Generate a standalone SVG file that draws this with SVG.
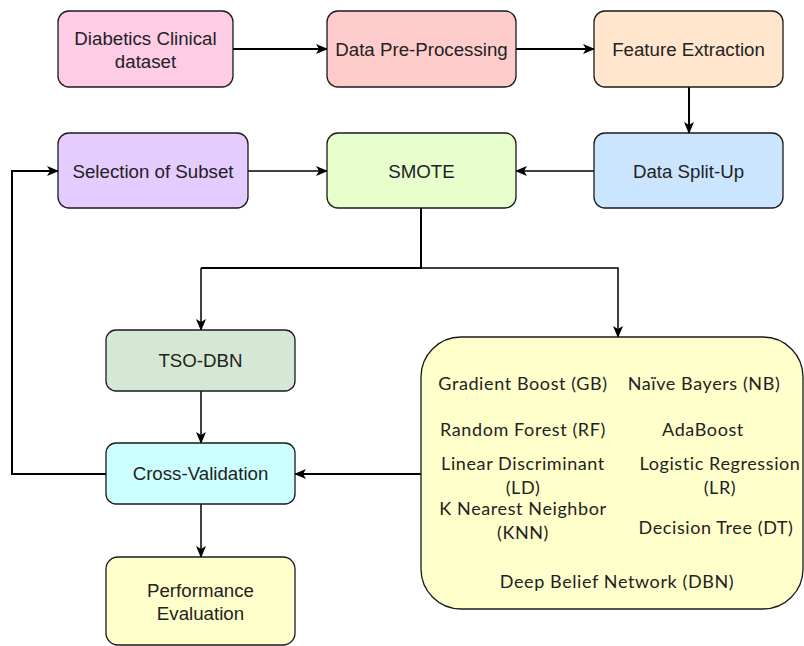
<svg xmlns="http://www.w3.org/2000/svg" width="804" height="646" viewBox="0 0 804 646">
<defs>
<marker id="ah" markerWidth="12" markerHeight="10" refX="11" refY="5" orient="auto" markerUnits="userSpaceOnUse">
<path d="M0,0 L12,5 L0,10 L3,5 z" fill="#000"/>
</marker>
<style>
.box{stroke:#1a1a1a;stroke-width:1.3}
.t{font-family:"Liberation Sans",Arial,sans-serif;font-size:18.7px;fill:#222;text-anchor:middle;dominant-baseline:central}
.c{font-family:Lato,"Open Sans",sans-serif;font-size:18px;letter-spacing:0.6px;fill:#222;text-anchor:middle;dominant-baseline:central}
.ln{fill:none;stroke:#000;stroke-width:1.5;marker-end:url(#ah)}
.lt{fill:none;stroke:#000;stroke-width:2}
</style>
</defs>
<rect width="804" height="646" fill="#fff"/>
<g id="connectors">
<path class="ln" style="stroke-width:2" d="M233,49 H327"/>
<path class="ln" style="stroke-width:2" d="M516,49 H594"/>
<path class="ln" style="stroke-width:2" d="M689,87 V133"/>
<path class="ln" d="M594,171 H516"/>
<path class="ln" d="M248,171 H327"/>
<path class="lt" d="M421,208 V268 H201"/>
<path class="ln" d="M201,268 V330"/>
<path class="ln" d="M421,268 H618 V337"/>
<path class="ln" d="M201,391 V443"/>
<path class="ln" style="stroke-width:2" d="M421,474 H295"/>
<path class="ln" style="stroke-width:2" d="M106,474 H12 V171 H58"/>
<path class="ln" d="M201,504 V557"/>
</g>
<g id="diabetics">
<rect class="box" x="58" y="11" width="175" height="76" rx="11" fill="#FFCCE6"/>
<text class="t" x="145.5" y="38">Diabetics Clinical</text>
<text class="t" x="145.5" y="61">dataset</text>
</g>
<g id="preprocessing">
<rect class="box" x="327" y="11" width="189" height="76" rx="11" fill="#FFCCCC"/>
<text class="t" x="421.5" y="49">Data Pre-Processing</text>
</g>
<g id="feature">
<rect class="box" x="594" y="11" width="189" height="76" rx="11" fill="#FFE6CC"/>
<text class="t" x="688.5" y="49">Feature Extraction</text>
</g>
<g id="split">
<rect class="box" x="594" y="133" width="189" height="75" rx="11" fill="#CCE5FF"/>
<text class="t" x="688.5" y="171">Data Split-Up</text>
</g>
<g id="smote">
<rect class="box" x="327" y="133" width="189" height="75" rx="11" fill="#E6FFCC"/>
<text class="t" x="421.5" y="171">SMOTE</text>
</g>
<g id="selection">
<rect class="box" x="58" y="133" width="190" height="75" rx="11" fill="#E5CCFF"/>
<text class="t" x="153" y="171">Selection of Subset</text>
</g>
<g id="tsodbn">
<rect class="box" x="106" y="330" width="189" height="61" rx="10" fill="#D5E8D4"/>
<text class="t" x="200.5" y="360">TSO-DBN</text>
</g>
<g id="crossval">
<rect class="box" x="106" y="443" width="189" height="61" rx="10" fill="#CCFFFF"/>
<text class="t" x="200.5" y="473">Cross-Validation</text>
</g>
<g id="performance">
<rect class="box" x="106" y="557" width="189" height="88" rx="12" fill="#FFFFCC"/>
<text class="t" x="200.5" y="590">Performance</text>
<text class="t" x="200.5" y="613">Evaluation</text>
</g>
<g id="models">
<rect class="box" x="421" y="337" width="382" height="272" rx="40" fill="#FFFFCC"/>
<text class="c" x="523" y="383">Gradient Boost (GB)</text>
<text class="c" x="704" y="383">Naïve Bayers (NB)</text>
<text class="c" x="523" y="429">Random Forest (RF)</text>
<text class="c" x="703" y="429">AdaBoost</text>
<text class="c" x="523" y="463">Linear Discriminant</text>
<text class="c" x="523" y="487">(LD)</text>
<text class="c" x="720" y="463">Logistic Regression</text>
<text class="c" x="720" y="487">(LR)</text>
<text class="c" x="523" y="508">K Nearest Neighbor</text>
<text class="c" x="523" y="532">(KNN)</text>
<text class="c" x="716" y="527">Decision Tree (DT)</text>
<text class="c" x="617" y="581">Deep Belief Network (DBN)</text>
</g>
</svg>
